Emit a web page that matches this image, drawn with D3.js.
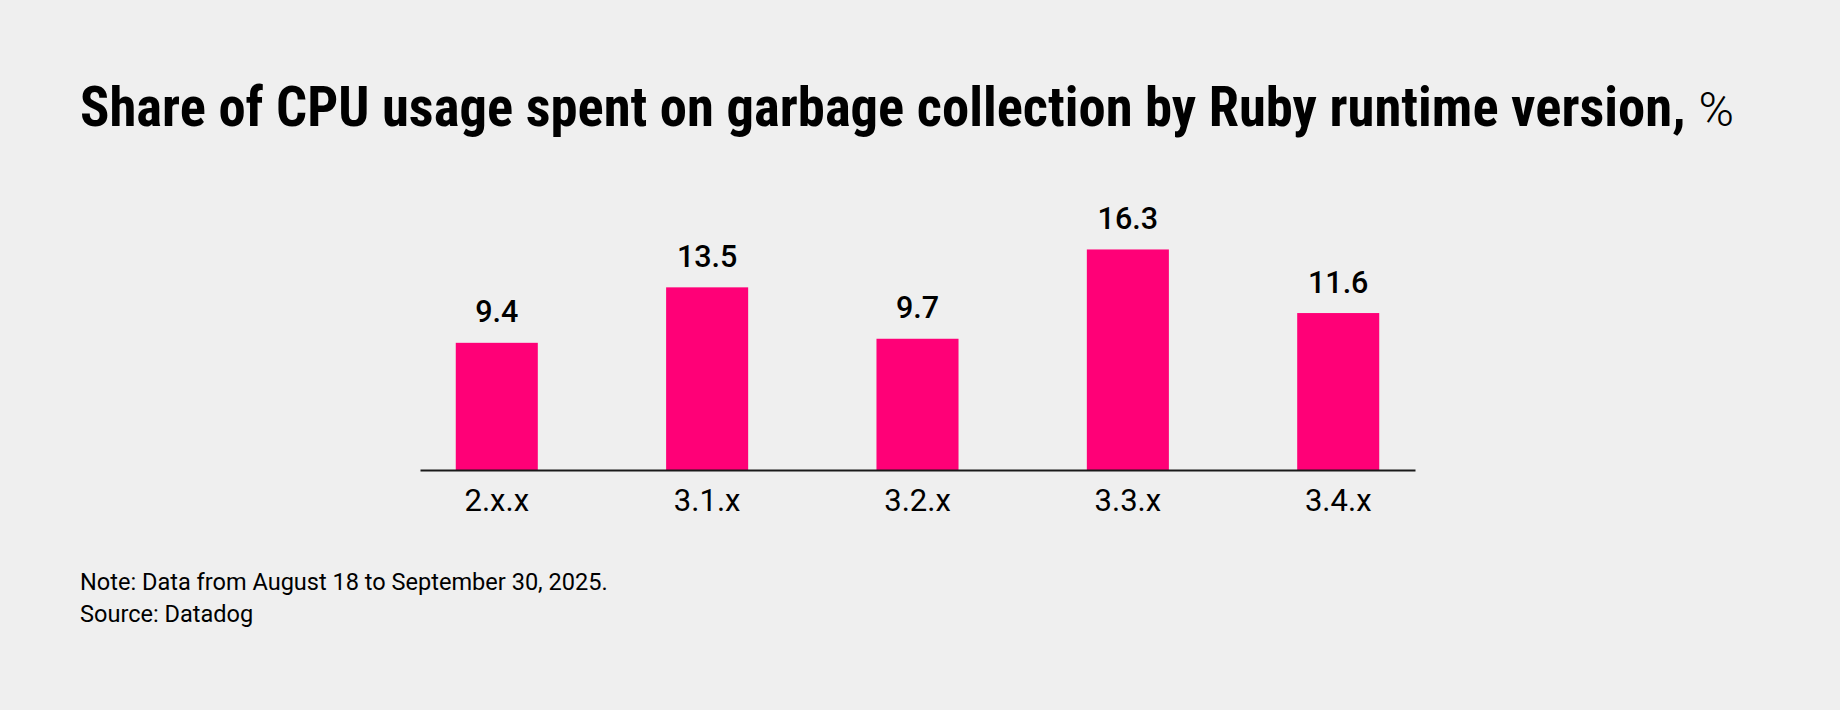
<!DOCTYPE html>
<html>
<head>
<meta charset="utf-8">
<script src="https://cdn.jsdelivr.net/npm/d3@7"></script>
<style>
  html, body { margin: 0; padding: 0; background: #efefef; }
  svg { display: block; }
</style>
</head>
<body>
<svg id="chart" width="1840" height="710"></svg>
<script>
const categories = ["2.x.x", "3.1.x", "3.2.x", "3.3.x", "3.4.x"];
const values = [9.4, 13.5, 9.7, 16.3, 11.6];
const titleText = "Share of CPU usage spent on garbage collection by Ruby runtime version,";
const titleUnit = "%";
const noteLines = ["Note: Data from August 18 to September 30, 2025.", "Source: Datadog"];

const svg = d3.select("#chart");
svg.append("rect").attr("width", 1840).attr("height", 710).attr("fill", "#efefef");

// Title
const title = svg.append("text")
  .attr("x", 80).attr("y", 125.5)
  .attr("fill", "#000");
const tBold = title.append("tspan")
  .attr("font-family", "'Liberation Sans Narrow', 'Roboto Condensed', 'Liberation Sans', sans-serif")
  .attr("font-weight", 700)
  .attr("font-size", 49)
  .text(titleText);
let w = tBold.node().getComputedTextLength();
const targetW = 1606;
tBold.attr("font-size", 49 * targetW / w);
title.append("tspan")
  .attr("dx", 13)
  .attr("font-family", "Roboto, 'Liberation Sans', sans-serif")
  .attr("font-weight", 300)
  .attr("font-size", 48)
  .text(titleUnit);

// Scales
const x = d3.scaleBand()
  .domain(categories)
  .range([420, 1415])
  .paddingInner(0.61)
  .paddingOuter(0.17);
const y = d3.scaleLinear()
  .domain([0, 20])
  .range([470, 470 - 20 * 13.53]);

const data = categories.map((c, i) => ({ c, v: values[i] }));

// Bars
svg.append("g").selectAll("rect")
  .data(data).join("rect")
  .attr("x", d => x(d.c))
  .attr("y", d => y(d.v))
  .attr("width", x.bandwidth())
  .attr("height", d => y(0) - y(d.v))
  .attr("fill", "#ff0077");

// Value labels
svg.append("g").selectAll("text")
  .data(data).join("text")
  .attr("x", d => x(d.c) + x.bandwidth() / 2)
  .attr("y", d => y(d.v) - 20.5)
  .attr("text-anchor", "middle")
  .attr("font-family", "Roboto, 'Liberation Sans', sans-serif")
  .attr("font-weight", 500)
  .attr("font-size", 30.5)
  .attr("fill", "#000")
  .text(d => d.v.toFixed(1));

// X axis
const xAxis = d3.axisBottom(x).tickSize(0).tickPadding(0);
const gx = svg.append("g").attr("transform", `translate(0,${y(0)})`).call(xAxis);
gx.select(".domain").attr("stroke", "#1a1a1a").attr("stroke-width", 2);
gx.selectAll(".tick text")
  .attr("y", 41)
  .attr("dy", 0)
  .attr("font-family", "Roboto, 'Liberation Sans', sans-serif")
  .attr("font-weight", 400)
  .attr("font-size", 31)
  .attr("fill", "#000");

// Notes
const notes = svg.append("g").selectAll("text")
  .data(noteLines).join("text")
  .attr("x", 80)
  .attr("y", (d, i) => 589.5 + i * 32)
  .attr("font-family", "Roboto, 'Liberation Sans', sans-serif")
  .attr("font-weight", 400)
  .attr("font-size", 20)
  .attr("fill", "#000")
  .text(d => d);
const nw = notes.nodes()[0].getComputedTextLength();
notes.attr("font-size", 20 * 528 / nw);
</script>
</body>
</html>
